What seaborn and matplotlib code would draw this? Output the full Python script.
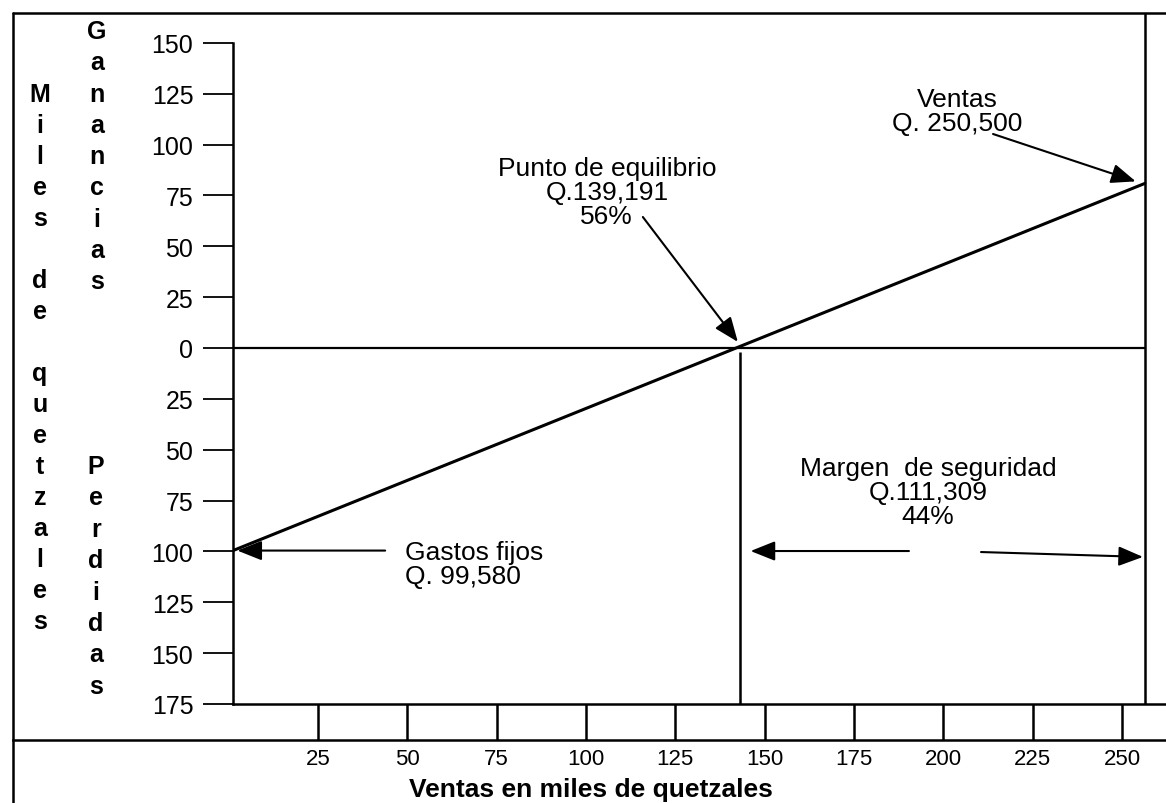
import matplotlib
matplotlib.use("Agg")
import matplotlib.pyplot as plt
from matplotlib.lines import Line2D
import seaborn as sns
import pandas as pd

# ---------------- data (thousands of quetzales) ----------------
fixed_costs = 99.580
breakeven_sales = 139.191
total_sales = 250.500
profit_at_sales = 80.9          # at the right end of the line

profit_x = [0.0, total_sales]
profit_y = [-fixed_costs, profit_at_sales]

y_ticks = [150, 125, 100, 75, 50, 25, 0, -25, -50, -75, -100, -125, -150, -175]
y_tick_labels = ["150", "125", "100", "75", "50", "25", "0",
                 "25", "50", "75", "100", "125", "150", "175"]
x_ticks = [25, 50, 75, 100, 125, 150, 175, 200, 225, 250]
x_tick_labels = ["25", "50", "75", "100", "125", "150", "175", "200", "225", "250"]

label_ventas = "Ventas\nQ. 250,500"
label_equilibrio = "Punto de equilibrio\nQ.139,191\n56%"
label_gastos = "Gastos fijos\nQ. 99,580"
label_margen = "Margen  de seguridad\nQ.111,309\n44%"
x_title = "Ventas en miles de quetzales"
col_miles = "Miles de quetzales"
col_ganancias = "Ganancias"
col_perdidas = "Perdidas"

# ---------------- figure ----------------
sns.set_theme(style="white")
plt.rcParams["font.family"] = ["Liberation Sans", "DejaVu Sans"]

W, H = 1166, 804
fig = plt.figure(figsize=(W / 100, H / 100), dpi=100)
fig.patch.set_facecolor("white")

def fx(px):
    return px / W

def fy(py):
    return 1 - py / H

# main axes: pixel x 233..1166, y 14..705
ax = fig.add_axes([fx(233), fy(705), fx(W) - fx(233), fy(14) - fy(705)])
kx = 3.64
ky = 356 / 175.0
ax.set_xlim(0, (W - 233) / kx)
ax.set_ylim(-175, (349 - 14) / ky)
ax.set_facecolor("white")

df = pd.DataFrame({"ventas": profit_x, "resultado": profit_y})
sns.lineplot(data=df, x="ventas", y="resultado", ax=ax, color="black", lw=2.2)

ax.hlines(0, 0, total_sales, color="black", lw=1.6)
ax.vlines(total_sales, -175, ax.get_ylim()[1], color="black", lw=1.8)
ax.vlines(breakeven_sales, -175, -2, color="black", lw=1.8)

for s in ["top", "right"]:
    ax.spines[s].set_visible(False)
ax.spines["left"].set_bounds(-175, 150)
ax.spines["left"].set_linewidth(1.8)
ax.spines["left"].set_color("black")
ax.spines["bottom"].set_linewidth(1.8)
ax.spines["bottom"].set_color("black")

ax.set_yticks(y_ticks)
ax.set_yticklabels(y_tick_labels)
ax.tick_params(axis="y", direction="out", length=21.6, width=1.3, pad=7,
               labelsize=18, colors="black", left=True)
ax.set_xticks([])
ax.set_xlabel("")
ax.set_ylabel("")

txt_kw = dict(fontsize=19, color="black", linespacing=1.0)
arrow_kw = dict(arrowstyle="-|>,head_length=0.75,head_width=0.3", color="black",
                lw=1.5, mutation_scale=20, shrinkA=0, shrinkB=0)

# Ventas
ax.text(199.0, 116.5, label_ventas, ha="center", va="center", **txt_kw)
ax.annotate("", xy=(total_sales - 2.5, profit_at_sales + 1.0),
            xytext=(208.8, 105.2), arrowprops=arrow_kw)

# Punto de equilibrio
ax.text(102.7, 76.5, label_equilibrio, ha="center", va="center", **txt_kw)
ax.annotate("", xy=(breakeven_sales - 0.5, 3.0),
            xytext=(112.6, 64.4), arrowprops=arrow_kw)

# Gastos fijos
ax.text(47.3, -106.0, label_gastos, ha="left", va="center", **txt_kw)
ax.annotate("", xy=(1.2, -fixed_costs), xytext=(41.8, -fixed_costs),
            arrowprops=arrow_kw)

# Margen de seguridad
ax.text(190.9, -71.0, label_margen, ha="center", va="center", **txt_kw)
ax.annotate("", xy=(breakeven_sales + 3.0, -99.8), xytext=(185.7, -99.8),
            arrowprops=arrow_kw)
ax.annotate("", xy=(total_sales - 0.5, -102.7), xytext=(205.5, -100.3),
            arrowprops=arrow_kw)

# ---------------- bottom tick strip ----------------
ax2 = fig.add_axes([fx(13), fy(741), fx(W) - fx(13), fy(705) - fy(741)])
kx2 = (1122 - 318) / 225.0
x0_2 = 318 - 25 * kx2
ax2.set_xlim((13 - x0_2) / kx2, (W - x0_2) / kx2)
ax2.set_ylim(0, 1)
ax2.set_facecolor("none")
ax2.vlines(x_ticks, 0, 1, color="black", lw=1.8)
for s in ["top", "right", "left"]:
    ax2.spines[s].set_visible(False)
ax2.spines["bottom"].set_linewidth(1.8)
ax2.spines["bottom"].set_color("black")
ax2.set_yticks([])
ax2.set_xticks(x_ticks)
ax2.set_xticklabels(x_tick_labels)
ax2.tick_params(axis="x", length=0, pad=6, labelsize=16, colors="black")

fig.text(fx(591), fy(790), x_title, ha="center", va="center",
         fontsize=19, fontweight="bold", color="black")

# ---------------- stacked vertical axis titles ----------------
for i, ch in enumerate(col_miles):
    if ch != " ":
        fig.text(fx(40), fy(95 + 31.0 * i), ch, ha="center", va="center",
                 fontsize=18, fontweight="bold", color="black")
for i, ch in enumerate(col_ganancias):
    fig.text(fx(97), fy(32 + 31.3 * i), ch, ha="center", va="center",
             fontsize=18, fontweight="bold", color="black")
for i, ch in enumerate(col_perdidas):
    fig.text(fx(96), fy(467 + 31.4 * i), ch, ha="center", va="center",
             fontsize=18, fontweight="bold", color="black")

# ---------------- outer frame ----------------
fig.add_artist(Line2D([fx(13), fx(13)], [0, fy(14)], transform=fig.transFigure,
                      color="black", lw=1.8))
fig.add_artist(Line2D([fx(13), 1], [fy(14), fy(14)], transform=fig.transFigure,
                      color="black", lw=1.8))

fig.savefig("out.png", dpi=100, facecolor="white")
